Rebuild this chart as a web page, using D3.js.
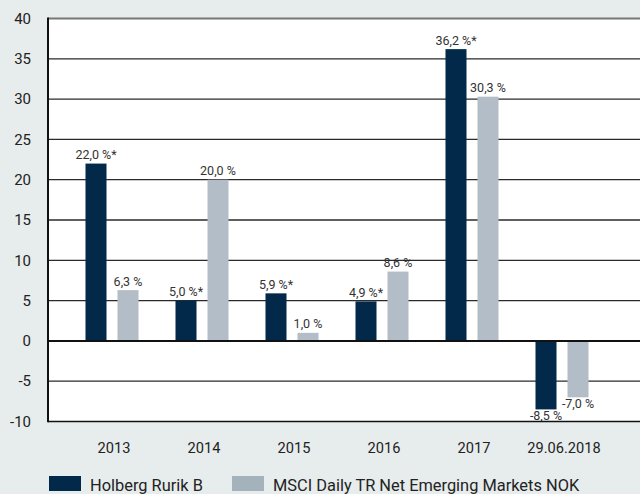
<!DOCTYPE html>
<html>
<head>
<meta charset="utf-8">
<script src="https://cdn.jsdelivr.net/npm/d3@7"></script>
<style>
  html, body { margin: 0; padding: 0; background: #e7ecec; }
  svg { display: block; }
</style>
</head>
<body>
<script>
// ---- data ----
const categories = ["2013", "2014", "2015", "2016", "2017", "29.06.2018"];
const seriesNames = ["Holberg Rurik B", "MSCI Daily TR Net Emerging Markets NOK"];
const holbergValues = [22.0, 5.0, 5.9, 4.9, 36.2, -8.5];
const msciValues = [6.3, 20.0, 1.0, 8.6, 30.3, -7.0];
const holbergNotes = ["*", "*", "*", "*", "*", ""];
const msciNotes = ["", "", "", "", "", ""];
const yTicks = [-10, -5, 0, 5, 10, 15, 20, 25, 30, 35, 40];

// ---- layout ----
const W = 640, H = 494;
const plot = { left: 48, right: 640, top: 18.5, bottom: 421.5 };
const colors = ["#02284a", "#b3bdc7"];
const legendColors = ["#02284a", "#a4b2bc"];
const font = "Roboto, 'Liberation Sans', Arial, sans-serif";

const svg = d3.select("body").append("svg").attr("width", W).attr("height", H);
svg.append("rect").attr("width", W).attr("height", H).attr("fill", "#e7ecec");

const y = d3.scaleLinear().domain([-10, 40]).range([plot.bottom, plot.top]);
const x0 = d3.scaleBand().domain(categories).range([67, 607]).paddingInner(0).paddingOuter(0);
const x1 = d3.scaleBand().domain([0, 1]).range([0, x0.bandwidth()]).paddingInner(0.34375).paddingOuter(0.578);

// plot area
svg.append("rect")
  .attr("x", plot.left).attr("y", plot.top)
  .attr("width", plot.right - plot.left).attr("height", plot.bottom - plot.top)
  .attr("fill", "#ffffff");

// gridlines
svg.append("g").selectAll("line")
  .data(yTicks.filter(t => t !== 0 && t !== -10 && t !== 40))
  .join("line")
  .attr("x1", plot.left).attr("x2", plot.right)
  .attr("y1", d => y(d)).attr("y2", d => y(d))
  .attr("stroke", "#2a2a2a").attr("stroke-width", 1.3);

// top border
svg.append("line")
  .attr("x1", plot.left).attr("x2", plot.right)
  .attr("y1", y(40)).attr("y2", y(40))
  .attr("stroke", "#777").attr("stroke-width", 2);

// y tick labels
svg.append("g").selectAll("text")
  .data(yTicks).join("text")
  .attr("x", 31).attr("y", d => y(d)).attr("dy", "0.35em")
  .attr("text-anchor", "end")
  .attr("font-family", font).attr("font-size", 15)
  .attr("fill", "#222")
  .text(d => d);

// bars
const rows = categories.map((c, i) => ({
  cat: c,
  vals: [
    { s: 0, v: holbergValues[i], note: holbergNotes[i] },
    { s: 1, v: msciValues[i], note: msciNotes[i] }
  ]
}));

const fmt = v => d3.format(".1f")(v).replace(".", ",").replace("−", "-");

const groups = svg.append("g").selectAll("g")
  .data(rows).join("g")
  .attr("transform", d => `translate(${x0(d.cat)},0)`);

groups.selectAll("rect")
  .data(d => d.vals).join("rect")
  .attr("x", d => x1(d.s))
  .attr("width", x1.bandwidth())
  .attr("y", d => y(Math.max(0, d.v)))
  .attr("height", d => Math.abs(y(d.v) - y(0)))
  .attr("fill", d => colors[d.s]);

groups.selectAll("text")
  .data(d => d.vals).join("text")
  .attr("x", d => x1(d.s) + x1.bandwidth() / 2)
  .attr("y", d => d.v >= 0 ? y(d.v) - 4.5 : y(d.v) + 11)
  .attr("text-anchor", "middle")
  .attr("font-family", font).attr("font-size", 12.5)
  .attr("fill", "#333")
  .text(d => fmt(d.v) + " %" + d.note);

// zero line
svg.append("line")
  .attr("x1", plot.left).attr("x2", plot.right)
  .attr("y1", y(0)).attr("y2", y(0))
  .attr("stroke", "#111").attr("stroke-width", 2);

// bottom axis line
svg.append("line")
  .attr("x1", plot.left).attr("x2", plot.right)
  .attr("y1", y(-10)).attr("y2", y(-10))
  .attr("stroke", "#111").attr("stroke-width", 1.5);

// left axis line
svg.append("line")
  .attr("x1", plot.left).attr("x2", plot.left)
  .attr("y1", plot.top - 1).attr("y2", plot.bottom + 0.75)
  .attr("stroke", "#111").attr("stroke-width", 2);

// x labels
svg.append("g").selectAll("text")
  .data(categories).join("text")
  .attr("x", d => x0(d) + x0.bandwidth() / 2 + 2)
  .attr("y", 453)
  .attr("text-anchor", "middle")
  .attr("font-family", font).attr("font-size", 14.6)
  .attr("fill", "#222")
  .text(d => d);

// legend
const legendX = [49, 232];
const legend = svg.append("g").selectAll("g")
  .data(seriesNames).join("g")
  .attr("transform", (d, i) => `translate(${legendX[i]},476)`);
legend.append("rect")
  .attr("width", 32).attr("height", 15)
  .attr("fill", (d, i) => legendColors[i]);
legend.append("text")
  .attr("x", 41).attr("y", 15)
  .attr("font-family", font).attr("font-size", 16.4)
  .attr("fill", "#222")
  .text(d => d);
</script>
</body>
</html>
